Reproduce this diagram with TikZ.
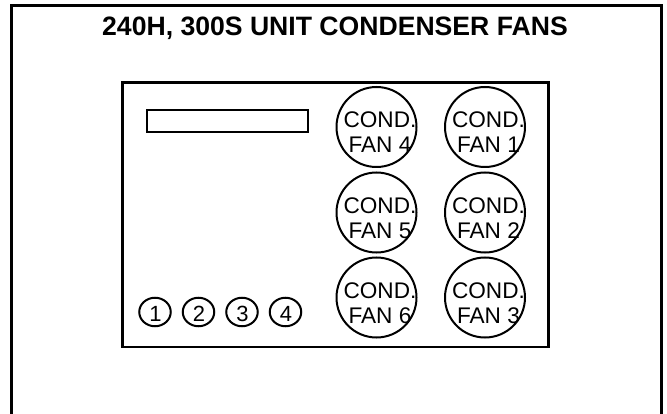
\documentclass[tikz,border=0pt]{standalone}
\usepackage{fontspec}
\setmainfont{Liberation Sans}
\usetikzlibrary{shapes.geometric}
\tikzstyle{frame}=[draw, line width=3pt]
\tikzstyle{fan}=[circle, draw, line width=2pt, inner sep=0pt, minimum size=80pt]
\tikzstyle{fantext}=[align=center, inner sep=0pt, font=\fontsize{22.6}{25}\selectfont]
\tikzstyle{switch}=[ellipse, draw, line width=2pt, inner sep=0pt, minimum width=31.5pt, minimum height=28.5pt]
\tikzstyle{switchtext}=[inner sep=0pt, font=\fontsize{22}{22}\selectfont]

\begin{document}
\begin{tikzpicture}[x=1pt, y=-1pt]
        \useasboundingbox (0,0) rectangle (667,414);

        % outer frame, open at the bottom
        \draw[frame] (11.7,414) -- (11.7,5.7) -- (661.5,5.7) -- (661.5,414);
        \node[font=\bfseries\fontsize{26.6}{30}\selectfont] (title) at (335,28) {240H, 300S UNIT CONDENSER FANS};

        % unit panel
        \draw[line width=2.8pt] (122.5,82.5) rectangle (548.3,347);
        \node[draw, line width=2.2pt, inner sep=0pt, minimum width=161pt, minimum height=21.5pt] (display) at (227.5,121) {};

        % condenser fans
        \foreach \n/\x/\y in {1/485/127, 2/485/212.5, 3/485/297.5, 4/376.5/127, 5/376.5/212.5, 6/376.5/297.5} {
            \node[fan] (fan\n) at (\x, \y) {};
            \node[fantext] (label\n) at ([shift={(3.5,5.5)}]fan\n.center) {COND.\\FAN \n};
        }

        % switches
        \foreach \i in {1,...,4} {
            \pgfmathsetmacro\posX{155 + (\i-1)*43.5}
            \node[switch] (sw\i) at (\posX, 312) {};
            \node[switchtext] (num\i) at ([shift={(0.5,2)}]sw\i.center) {\i};
        }
    \end{tikzpicture}
\end{document}
